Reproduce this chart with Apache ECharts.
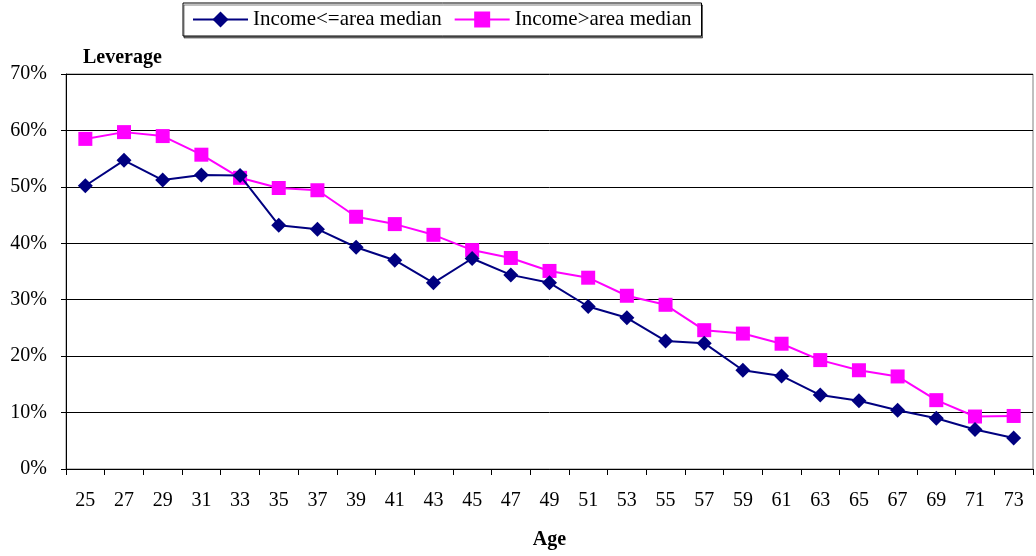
<!DOCTYPE html>
<html>
<head>
<meta charset="utf-8">
<script src="https://cdn.jsdelivr.net/npm/echarts@6/dist/echarts.min.js"></script>
<style>
  html, body { margin: 0; padding: 0; background: #fff; }
  #chart { width: 1036px; height: 556px; }
</style>
</head>
<body>
<div id="chart"></div>
<script>
// Age groups on the horizontal axis
const ages = ['25','27','29','31','33','35','37','39','41','43','45','47','49','51','53','55','57','59','61','63','65','67','69','71','73'];

// Leverage (%) by income group
const lowIncome = [50.2, 54.7, 51.2, 52.1, 52.0, 43.2, 42.5, 39.3, 37.0, 33.0, 37.3, 34.4, 33.0, 28.8, 26.8, 22.7, 22.3, 17.5, 16.5, 13.1, 12.1, 10.4, 9.0, 7.0, 5.5];
const highIncome = [58.5, 59.7, 59.0, 55.7, 51.6, 49.8, 49.4, 44.7, 43.4, 41.5, 38.8, 37.4, 35.1, 33.9, 30.7, 29.1, 24.6, 24.0, 22.2, 19.3, 17.5, 16.4, 12.2, 9.3, 9.4];

const seriesNames = ['Income<=area median', 'Income>area median'];

const serif = '"Liberation Serif", "Times New Roman", serif';
const chart = echarts.init(document.getElementById('chart'));

chart.setOption({
  animation: false,
  textStyle: { fontFamily: serif, color: '#000' },
  legend: {
    top: 3,
    left: 183,
    padding: [6, 10, 6, 9],
    itemGap: 12,
    itemWidth: 55,
    itemHeight: 20,
    borderColor: '#000',
    borderWidth: 1,
    shadowColor: 'rgba(0,0,0,0.5)',
    shadowOffsetX: 1,
    shadowOffsetY: 2,
    backgroundColor: '#fff',
    textStyle: { fontFamily: serif, fontSize: 21, color: '#000' },
    data: seriesNames
  },
  grid: {
    left: 66,
    right: 3,
    top: 74,
    bottom: 87,
    outerBoundsMode: 'none',
    containLabel: false,
    show: true,
    borderColor: '#808080',
    borderWidth: 1
  },
  xAxis: {
    type: 'category',
    data: ages,
    boundaryGap: true,
    name: 'Age',
    nameLocation: 'middle',
    nameGap: 61,
    nameTextStyle: { fontFamily: serif, fontSize: 20, fontWeight: 'bold', color: '#000' },
    axisLine: { lineStyle: { color: '#000', width: 1 } },
    axisTick: { show: true, inside: false, length: 6, alignWithLabel: false, lineStyle: { color: '#000' } },
    axisLabel: { fontFamily: serif, fontSize: 20, color: '#000', margin: 22 },
    splitLine: { show: false }
  },
  yAxis: {
    type: 'value',
    min: 0,
    max: 70,
    interval: 10,
    name: 'Leverage',
    nameLocation: 'end',
    nameGap: 6,
    nameTextStyle: { fontFamily: serif, fontSize: 20, fontWeight: 'bold', color: '#000', align: 'left', padding: [0, 0, 0, 17] },
    axisLine: { show: true, lineStyle: { color: '#000', width: 1 } },
    axisTick: { show: true, inside: false, length: 5, lineStyle: { color: '#000' } },
    axisLabel: { fontFamily: serif, fontSize: 20, color: '#000', margin: 19, formatter: '{value}%' },
    splitLine: { show: true, lineStyle: { color: '#000', width: 1 } }
  },
  series: [
    {
      name: seriesNames[0],
      type: 'line',
      data: lowIncome,
      symbol: 'diamond',
      symbolSize: 15,
      itemStyle: { color: '#000080' },
      lineStyle: { color: '#000080', width: 2 },
      z: 3
    },
    {
      name: seriesNames[1],
      type: 'line',
      data: highIncome,
      symbol: 'rect',
      symbolSize: 14,
      itemStyle: { color: '#FF00FF' },
      lineStyle: { color: '#FF00FF', width: 2 },
      z: 2
    }
  ]
});
</script>
</body>
</html>
